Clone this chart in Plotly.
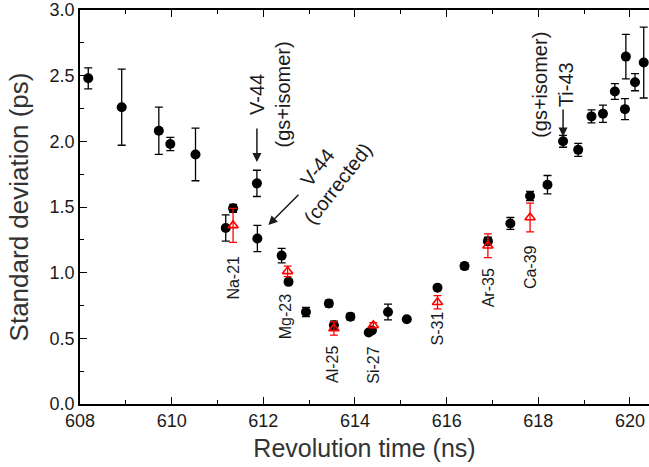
import plotly.graph_objects as go

# Black series (all nuclides): revolution time (ns), std dev (ps), error (ps)
black_t = [608.18, 608.91, 609.72, 609.97, 610.52, 611.18, 611.34, 611.86, 611.87,
           612.40, 612.55, 612.93, 613.43, 613.54, 613.90, 614.30, 614.37, 614.72,
           615.13, 615.80, 616.39, 616.90, 617.39, 617.82, 618.20, 618.54, 618.87,
           619.16, 619.41, 619.67, 619.89, 619.91, 620.11, 620.30]
black_sd = [2.48, 2.26, 2.08, 1.98, 1.90, 1.34, 1.49, 1.68, 1.26,
            1.13, 0.93, 0.70, 0.765, 0.60, 0.665, 0.545, 0.56, 0.70,
            0.645, 0.886, 1.05, 1.24, 1.375, 1.584, 1.67, 2.00, 1.935,
            2.19, 2.21, 2.38, 2.245, 2.645, 2.45, 2.60]
black_err = [0.08, 0.29, 0.18, 0.05, 0.20, 0.10, 0.03, 0.10, 0.10,
             0.055, 0.0, 0.035, 0.025, 0.03, 0.025, 0.0, 0.0, 0.06,
             0.0, 0.0, 0.025, 0.03, 0.045, 0.035, 0.07, 0.045, 0.05,
             0.05, 0.065, 0.06, 0.08, 0.17, 0.065, 0.27]

# Red series (corrected, open triangles)
red_t = [611.34, 612.53, 613.54, 614.40, 615.80, 616.90, 617.82]
red_sd = [1.36, 1.01, 0.575, 0.60, 0.775, 1.205, 1.42]
red_err = [0.13, 0.04, 0.05, 0.02, 0.05, 0.09, 0.11]

# Nuclide labels (text, x, y in data units)
label_text = ["Na-21", "Mg-23", "Al-25", "Si-27", "S-31", "Ar-35", "Ca-39"]
label_x = [611.34, 612.49, 613.52, 614.41, 615.80, 616.92, 617.82]
label_y = [0.963, 0.666, 0.305, 0.297, 0.579, 0.887, 1.043]

x_ticks = [608, 610, 612, 614, 616, 618, 620]
y_ticks = [0.0, 0.5, 1.0, 1.5, 2.0, 2.5, 3.0]

FONT = "Liberation Sans, Arial, sans-serif"
TXT = "#1a1a1a"

fig = go.Figure()
fig.add_trace(go.Scatter(
    x=black_t, y=black_sd, mode="markers",
    marker=dict(symbol="circle", size=10, color="black"),
    error_y=dict(type="data", array=black_err, visible=True, color="black",
                 thickness=1.3, width=4),
    showlegend=False))
fig.add_trace(go.Scatter(
    x=red_t, y=red_sd, mode="markers",
    marker=dict(symbol="triangle-up-open", size=9, color="red",
                line=dict(width=1.6, color="red")),
    error_y=dict(type="data", array=red_err, visible=True, color="red",
                 thickness=1.3, width=4),
    showlegend=False))

for t, x, y in zip(label_text, label_x, label_y):
    fig.add_annotation(x=x, y=y, text=t, showarrow=False, textangle=-90,
                       font=dict(family=FONT, size=16, color=TXT))

# V-44 (gs+isomer)
fig.add_annotation(x=612.135, y=2.353, text="V-44<br>(gs+isomer)", showarrow=False,
                   textangle=-90, font=dict(family=FONT, size=20, color=TXT))
fig.add_annotation(x=611.86, y=1.843, ax=611.86, ay=2.11, axref="x", ayref="y",
                   text="", showarrow=True, arrowhead=2, arrowsize=1.2,
                   arrowwidth=1.5, arrowcolor=TXT)
# V-44 (corrected)
fig.add_annotation(x=613.41, y=1.744, text="V-44<br>(corrected)", showarrow=False,
                   textangle=-52, font=dict(family=FONT, size=20, color=TXT))
fig.add_annotation(x=612.11, y=1.363, ax=612.80, ay=1.605, axref="x", ayref="y",
                   text="", showarrow=True, arrowhead=2, arrowsize=1.2,
                   arrowwidth=1.5, arrowcolor=TXT)
# Ti-43 (gs+isomer)
fig.add_annotation(x=618.32, y=2.43, text="(gs+isomer)<br>Ti-43", showarrow=False,
                   textangle=-90, font=dict(family=FONT, size=20, color=TXT))
fig.add_annotation(x=618.54, y=2.036, ax=618.54, ay=2.254, axref="x", ayref="y",
                   text="", showarrow=True, arrowhead=2, arrowsize=1.2,
                   arrowwidth=1.5, arrowcolor=TXT)

fig.update_layout(
    width=649, height=467,
    margin=dict(l=80, r=0, t=10, b=63),
    paper_bgcolor="white", plot_bgcolor="white",
    font=dict(family=FONT, color=TXT),
    xaxis=dict(range=[608, 620.415], tickvals=x_ticks, ticktext=[str(v) for v in x_ticks],
               ticks="inside", ticklen=7, tickwidth=1.3, tickcolor="black",
               showline=True, linecolor="black", linewidth=1.5, mirror="ticks",
               showgrid=False, zeroline=False,
               minor=dict(dtick=1, ticks="inside", ticklen=4, tickwidth=1.3, tickcolor="black"),
               tickfont=dict(family=FONT, size=18, color=TXT),
               title=dict(text="Revolution time (ns)", font=dict(family=FONT, size=25, color="#333"),
                          standoff=9)),
    yaxis=dict(range=[0, 3], tickvals=y_ticks, ticktext=[f"{v:.1f}" for v in y_ticks],
               ticks="inside", ticklen=7, tickwidth=1.3, tickcolor="black",
               showline=True, linecolor="black", linewidth=1.5, mirror=False,
               showgrid=False, zeroline=False,
               minor=dict(dtick=0.25, ticks="inside", ticklen=4, tickwidth=1.3, tickcolor="black"),
               tickfont=dict(family=FONT, size=18, color=TXT),
               title=dict(text="Standard deviation (ps)", font=dict(family=FONT, size=26, color="#333"),
                          standoff=14)),
)

fig.write_html("out.html")
